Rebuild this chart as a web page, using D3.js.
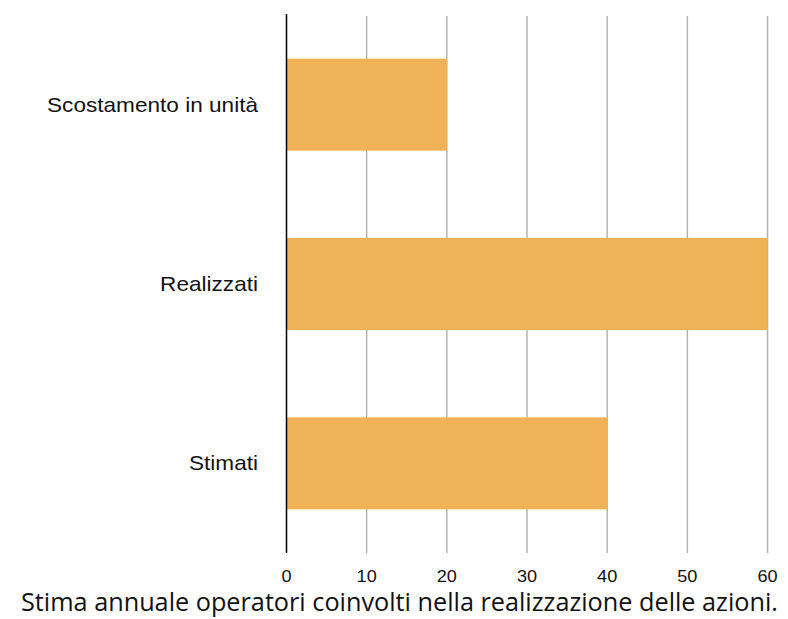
<!DOCTYPE html>
<html>
<head>
<meta charset="utf-8">
<script src="https://cdn.jsdelivr.net/npm/d3@7"></script>
<style>
  body { margin: 0; background: #fff; }
  svg { display: block; }
</style>
</head>
<body>
<div id="vis"></div>
<script>
// chart data
const categories = ['Scostamento in unità', 'Realizzati', 'Stimati'];
const values = [20, 60, 40];
const tickValues = [0, 10, 20, 30, 40, 50, 60];
const title = 'Stima annuale operatori coinvolti nella realizzazione delle azioni.';

const width = 788;
const height = 619;
// the source text is a little wider than it is tall
const stretch = 1.13;

const svg = d3.select('#vis')
  .append('svg')
  .attr('width', width)
  .attr('height', height);

// scales
const x = d3.scaleLinear()
  .domain([0, 60])
  .range([286.5, 767.5]);

const y = d3.scaleBand()
  .domain(categories)
  .range([15, 553])
  .paddingInner(0.487)
  .paddingOuter(0.2435);

// vertical gridlines
svg.append('g')
  .selectAll('line')
  .data(tickValues.filter(d => d > 0))
  .enter().append('line')
  .attr('x1', d => x(d))
  .attr('x2', d => x(d))
  .attr('y1', 16)
  .attr('y2', 553)
  .attr('stroke', '#b4b4b4')
  .attr('stroke-width', 1.5);

// bars
svg.append('g')
  .selectAll('rect')
  .data(categories)
  .enter().append('rect')
  .attr('x', x(0))
  .attr('y', d => y(d))
  .attr('width', (d, i) => x(values[i]) - x(0))
  .attr('height', y.bandwidth())
  .attr('fill', '#f0b256');

// y axis line
svg.append('line')
  .attr('x1', x(0))
  .attr('x2', x(0))
  .attr('y1', 14)
  .attr('y2', 553)
  .attr('stroke', '#000')
  .attr('stroke-width', 1.5);

// category labels
svg.append('g')
  .selectAll('text')
  .data(categories)
  .enter().append('text')
  .attr('transform', d => 'translate(258,' + (y(d) + y.bandwidth() / 2) + ') scale(' + stretch + ',1)')
  .attr('dy', '0.35em')
  .attr('text-anchor', 'end')
  .attr('font-family', 'Liberation Sans, Arial, sans-serif')
  .attr('font-size', 20)
  .attr('fill', '#111')
  .text(d => d);

// tick labels
svg.append('g')
  .selectAll('text')
  .data(tickValues)
  .enter().append('text')
  .attr('transform', d => 'translate(' + x(d) + ',582) scale(' + stretch + ',1)')
  .attr('text-anchor', 'middle')
  .attr('font-family', 'Liberation Sans, Arial, sans-serif')
  .attr('font-size', 16)
  .attr('fill', '#111')
  .text(d => d);

// title below the chart
svg.append('text')
  .attr('x', 21)
  .attr('y', 611)
  .attr('textLength', 757)
  .attr('lengthAdjust', 'spacingAndGlyphs')
  .attr('font-family', 'Open Sans, sans-serif')
  .attr('font-size', 25)
  .attr('fill', '#111')
  .text(title);
</script>
</body>
</html>
